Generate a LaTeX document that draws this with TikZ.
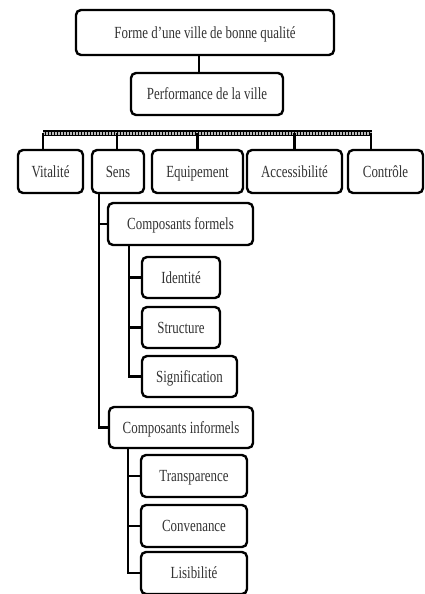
\documentclass[tikz,border=0pt]{standalone}
\usepackage{fontspec}
\setmainfont[FakeStretch=0.76]{Liberation Serif}
\usetikzlibrary{calc}

\begin{document}
\begin{tikzpicture}[x=1pt, y=-1pt,
  box/.style={draw=black, line width=2.4pt, rounded corners=5pt, fill=white, inner sep=2pt, minimum height=42pt, text height=13pt, text depth=2pt, align=center, text=black!80, font=\fontsize{17}{20}\selectfont},
  link/.style={draw=black, line width=2.6pt}]
  \useasboundingbox (0,0) rectangle (425,594);

  % Top: form -> performance
  \node[box, minimum width=258pt, minimum height=45pt] (forme) at (205,32.5) {Forme d'une ville de bonne qualité};
  \node[box, minimum width=152pt] (perf) at (207,94) {Performance de la ville};
  \draw[link] ([xshift=-8pt]perf.north |- forme.south) -- ([xshift=-8pt]perf.north);

  % Five dimensions
  \node[box, minimum width=65pt, minimum height=43pt] (vit) at (50.5,171.5) {Vitalité};
  \node[box, minimum width=52pt, minimum height=43pt] (sens) at (118,171.5) {Sens};
  \node[box, minimum width=91pt, minimum height=43pt] (equip) at (197.5,171.5) {Equipement};
  \node[box, minimum width=95pt, minimum height=43pt] (acc) at (294.5,171.5) {Accessibilité};
  \node[box, minimum width=75pt, minimum height=43pt] (ctrl) at (385.5,171.5) {Contrôle};

  % Hatched bar over the dimensions
  \coordinate (barL) at (43,133);
  \coordinate (barR) at (372,133);
  \draw[black, line width=6pt] (barL) -- (barR);
  \draw[gray!55, line width=3pt, dash pattern=on 2pt off 1pt] (barL) -- (barR);
  \draw[link] ([xshift=-7.5pt]vit.north) -- ([xshift=-7.5pt]vit.north |- barL);
  \draw[link] ([xshift=-1pt]sens.north) -- ([xshift=-1pt]sens.north |- barL);
  \draw[link] (equip.north) -- (equip.north |- barL);
  \draw[link] (acc.north) -- (acc.north |- barL);
  \draw[link] ([xshift=-14.5pt]ctrl.north) -- ([xshift=-14.5pt]ctrl.north |- barL);

  % Sens: formal and informal components
  \node[box, minimum width=145pt] (cf) at (180.5,224) {Composants formels};
  \node[box, minimum width=144pt, minimum height=41pt] (ci) at (181,427.5) {Composants informels};
  \draw[link] ([xshift=-19pt]sens.south) |- (cf.west);
  \draw[link] ([xshift=-19pt]sens.south) |- (ci.west);

  \node[box, minimum width=78pt, minimum height=41pt] (ident) at (181,277.5) {Identité};
  \node[box, minimum width=78pt, minimum height=41pt] (struct) at (181,327.5) {Structure};
  \node[box, minimum width=95pt, minimum height=41pt] (signif) at (189.5,376.5) {Signification};
  \draw[link] ([xshift=-51.5pt]cf.south) |- (ident.west);
  \draw[link] ([xshift=-51.5pt]cf.south) |- (struct.west);
  \draw[link] ([xshift=-51.5pt]cf.south) |- (signif.west);

  \node[box, minimum width=106pt] (transp) at (194,476) {Transparence};
  \node[box, minimum width=106pt] (conv) at (194,526) {Convenance};
  \node[box, minimum width=106pt] (lisib) at (194,573) {Lisibilité};
  \draw[link] ([xshift=-53pt]ci.south) |- (transp.west);
  \draw[link] ([xshift=-53pt]ci.south) |- (conv.west);
  \draw[link] ([xshift=-53pt]ci.south) |- (lisib.west);
\end{tikzpicture}
\end{document}
